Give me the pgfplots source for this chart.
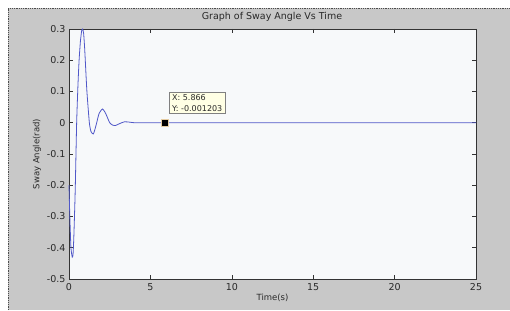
\documentclass[border=0pt]{standalone}
\usepackage{pgfplots}
\pgfplotsset{compat=1.18}
\usepackage{fontspec}
\setmainfont{DejaVu Sans}
\definecolor{figgray}{RGB}{200,200,200}
\definecolor{axbg}{RGB}{247,249,250}
\definecolor{curve}{RGB}{80,88,200}
\definecolor{tipbg}{RGB}{255,255,228}
\definecolor{txt}{RGB}{40,40,40}
\begin{document}
\begin{tikzpicture}
\useasboundingbox (0pt,0pt) rectangle (510pt,310pt);
\fill[white] (0pt,0pt) rectangle (510pt,310pt);
\fill[figgray] (8pt,0pt) rectangle (510pt,302pt);
\draw[black!70, densely dotted, line width=0.8pt] (8pt,0pt) -- (8pt,302pt) -- (510pt,302pt);
\node[font=\fontsize{9.5}{11}\selectfont, text=txt] at (272pt,293pt) {Graph of Sway Angle Vs Time};
\begin{axis}[
  at={(69pt,31pt)}, anchor=south west,
  scale only axis, width=407pt, height=250pt,
  xmin=0, xmax=25, ymin=-0.5, ymax=0.3,
  xtick={0,5,10,15,20,25},
  ytick={-0.5,-0.4,-0.3,-0.2,-0.1,0,0.1,0.2,0.3},
  yticklabels={-0.5,-0.4,-0.3,-0.2,-0.1,0,0.1,0.2,0.3},
  tick align=inside,
  major tick length=4pt,
  tick style={black!80, line width=0.5pt},
  axis line style={black!80, line width=0.6pt},
  axis background/.style={fill=axbg},
  tick label style={font=\fontsize{9.5}{11}\selectfont, text=txt},
  xticklabel style={yshift=-1pt},
  /pgf/number format/assume math mode=true,
  xlabel={Time(s)}, ylabel={Sway Angle(rad)},
  label style={font=\fontsize{8.5}{10}\selectfont, text=txt},
  xlabel style={yshift=4pt},
  ylabel style={yshift=-1pt},
  clip=false,
]
\addplot[curve, line width=0.8pt, smooth, tension=0.35] coordinates {
(0,-0.20) (0.05,-0.30) (0.12,-0.40) (0.2,-0.43) (0.25,-0.42) (0.3,-0.36)
(0.38,-0.22) (0.47,0.0) (0.55,0.12) (0.62,0.2) (0.7,0.26) (0.78,0.295)
(0.84,0.30) (0.9,0.285) (0.96,0.24) (1.0,0.2) (1.1,0.1) (1.25,0.0)
(1.35,-0.028) (1.49,-0.036) (1.6,-0.02) (1.7,0.0) (1.85,0.03) (2.06,0.044)
(2.25,0.03) (2.5,0.0) (2.7,-0.008) (2.85,-0.009) (3.1,-0.003) (3.4,0.003)
(3.7,0.002) (4.1,0.0) (6,0.0) (25,0.0)
};
\addplot[only marks, mark=square*, mark size=3.5pt, mark options={fill=black, draw=tipbg!60!brown, line width=0.4pt}] coordinates {(5.866,-0.001203)};
\node[anchor=north west, fill=tipbg, draw=black!50, line width=0.4pt,
  inner xsep=3pt, inner ysep=2pt, align=left,
  font=\fontsize{8}{10.5}\selectfont, text=txt]
  at (axis cs:6.14,0.097) {X: 5.866\\Y: -0.001203};
\end{axis}
\end{tikzpicture}
\end{document}
